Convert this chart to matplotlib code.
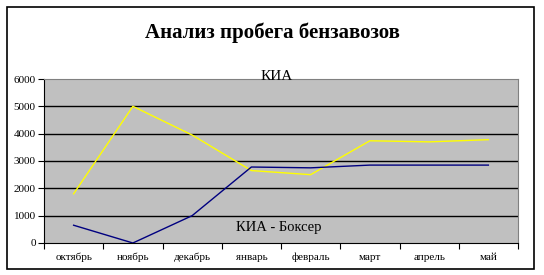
import matplotlib
matplotlib.use('Agg')
from matplotlib import pyplot as plt
from matplotlib.patches import Rectangle
import numpy as np

months = ['октябрь', 'ноябрь', 'декабрь', 'январь', 'февраль', 'март', 'апрель', 'май']
kia = [1800, 5000, 3950, 2650, 2500, 3740, 3700, 3780]
kia_boxer = [650, 0, 1000, 2780, 2750, 2850, 2850, 2850]

plt.rcParams['font.family'] = ['Liberation Serif', 'DejaVu Serif']

fig = plt.figure(figsize=(5.44, 2.75), dpi=100)
fig.patch.set_facecolor('white')

# outer chart frame
fig.patches.append(Rectangle((7 / 544, 6 / 275), 527 / 544, 262 / 275,
                             transform=fig.transFigure, fill=False,
                             edgecolor='black', linewidth=1.2))

ax = fig.add_axes([44 / 544, 32 / 275, 474 / 544, 164 / 275])
ax.set_facecolor('#C0C0C0')

x = np.arange(len(months))
ax.plot(x, kia, color='#FFFF00', linewidth=1.0)
ax.plot(x, kia_boxer, color='#000080', linewidth=1.0)

ax.set_xlim(-0.5, len(months) - 0.5)
ax.set_ylim(0, 6000)
ax.set_yticks(np.arange(0, 6001, 1000))
ax.set_yticklabels([str(v) for v in range(0, 6001, 1000)], fontsize=8)
ax.set_xticks(x)
ax.set_xticklabels(months, fontsize=8)
ax.set_xticks(np.arange(-0.5, len(months), 1), minor=True)
ax.tick_params(axis='x', which='major', length=0, pad=7)
ax.tick_params(axis='x', which='minor', length=4, direction='out', width=0.8)
ax.tick_params(axis='y', length=4, direction='out', width=0.8, pad=2)

for v in range(1000, 6000, 1000):
    ax.axhline(v, color='black', linewidth=1.0, zorder=0.5)

for side in ['top', 'right']:
    ax.spines[side].set_color('#808080')
for side in ['left', 'bottom']:
    ax.spines[side].set_color('black')

ax.text(3.42, 6080, 'КИА', fontsize=11, ha='center', va='center')
ax.text(3.47, 560, 'КИА - Боксер', fontsize=10.5, ha='center', va='center')

fig.text(272 / 544, 1 - 33 / 275, 'Анализ пробега бензавозов', fontsize=15,
         fontweight='bold', ha='center', va='center')

fig.savefig('out.png', dpi=100)
